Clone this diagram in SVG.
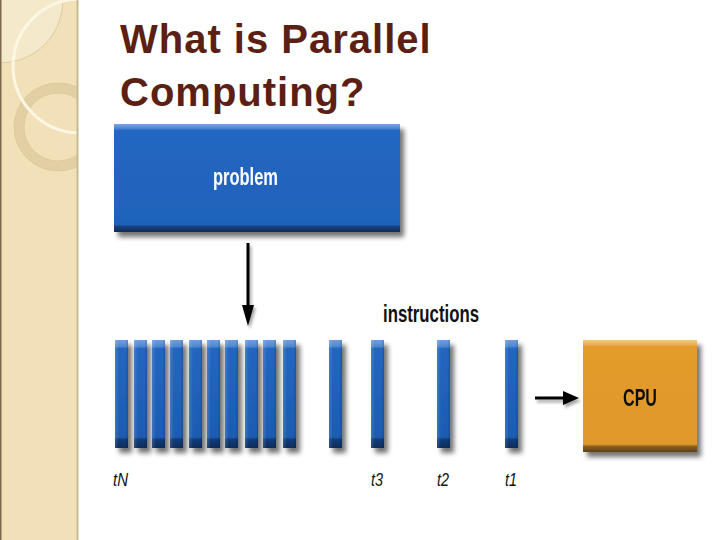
<svg xmlns="http://www.w3.org/2000/svg" width="720" height="540" viewBox="0 0 720 540">
<style>
.title{font-family:"Liberation Sans",Arial,sans-serif;font-weight:bold;font-size:40px;fill:#5b1f14;letter-spacing:1px}
.lbl{font-family:"Liberation Sans",Arial,sans-serif;font-weight:bold}
.t{font-family:"Liberation Sans",Arial,sans-serif;font-style:italic;font-size:19px;fill:#111}
</style>
<defs>
<linearGradient id="blueBar" x1="0" y1="0" x2="0" y2="1">
<stop offset="0" stop-color="#6f9fdc"/>
<stop offset="0.06" stop-color="#4f86d0"/>
<stop offset="0.08" stop-color="#2366c0"/>
<stop offset="0.9" stop-color="#1d5cb2"/>
<stop offset="0.92" stop-color="#123c78"/>
<stop offset="1" stop-color="#0d2d5c"/>
</linearGradient>
<linearGradient id="barSide" x1="0" y1="0" x2="1" y2="0">
<stop offset="0" stop-color="#fff" stop-opacity="0.15"/>
<stop offset="0.3" stop-color="#fff" stop-opacity="0"/>
<stop offset="0.8" stop-color="#000" stop-opacity="0"/>
<stop offset="1" stop-color="#000" stop-opacity="0.15"/>
</linearGradient>
<linearGradient id="blueBox" x1="0" y1="0" x2="0" y2="1">
<stop offset="0" stop-color="#7aa6e0"/>
<stop offset="0.04" stop-color="#4f86d0"/>
<stop offset="0.06" stop-color="#2367c2"/>
<stop offset="0.93" stop-color="#1f62bb"/>
<stop offset="0.95" stop-color="#163f7a"/>
<stop offset="1" stop-color="#0f2c58"/>
</linearGradient>
<linearGradient id="orangeBox" x1="0" y1="0" x2="0" y2="1">
<stop offset="0" stop-color="#f4c88a"/>
<stop offset="0.04" stop-color="#e9ae55"/>
<stop offset="0.06" stop-color="#e39c2b"/>
<stop offset="0.93" stop-color="#e0992a"/>
<stop offset="0.95" stop-color="#8d6120"/>
<stop offset="1" stop-color="#5c3f14"/>
</linearGradient>
<filter id="sh" x="-20%" y="-20%" width="150%" height="150%">
<feGaussianBlur in="SourceAlpha" stdDeviation="2.5"/>
<feOffset dx="4" dy="5" result="b"/>
<feComponentTransfer><feFuncA type="linear" slope="0.55"/></feComponentTransfer>
<feMerge><feMergeNode/><feMergeNode in="SourceGraphic"/></feMerge>
</filter>
<filter id="ash" x="-50%" y="-50%" width="200%" height="200%">
<feGaussianBlur in="SourceAlpha" stdDeviation="1.5"/>
<feOffset dx="2" dy="3"/>
<feComponentTransfer><feFuncA type="linear" slope="0.35"/></feComponentTransfer>
<feMerge><feMergeNode/><feMergeNode in="SourceGraphic"/></feMerge>
</filter>
<clipPath id="side"><rect x="0" y="0" width="78" height="540"/></clipPath>
<symbol id="bar" overflow="visible"><rect x="0" y="0" width="13" height="108" fill="url(#blueBar)"/><rect x="0" y="0" width="13" height="108" fill="url(#barSide)"/></symbol>
</defs>
<rect width="720" height="540" fill="#fff"/>
<g id="sidebar">
<rect x="0" y="0" width="78" height="540" fill="#f1e0b8"/>
<g clip-path="url(#side)">
<circle cx="0" cy="0" r="63" fill="#f5e9cc" stroke="#d6c49a" stroke-width="0.8"/>
<circle cx="58" cy="127" r="39" fill="none" stroke="#e2cfa3" stroke-width="10"/>
<circle cx="58" cy="127" r="44" fill="none" stroke="#d8c496" stroke-width="0.7"/>
<circle cx="58" cy="127" r="34" fill="none" stroke="#d8c496" stroke-width="0.7"/>
<circle cx="80" cy="66" r="67" fill="none" stroke="#fdf6e2" stroke-width="3"/>
</g>
<rect x="0" y="0" width="1.5" height="540" fill="#7d6a4a"/>
<rect x="76.5" y="0" width="2" height="540" fill="#c9b991"/>
</g>
<g id="title">
<text class="title" x="120" y="53">What is Parallel</text>
<text class="title" x="120" y="106">Computing?</text>
</g>
<g id="problem" filter="url(#sh)">
<rect x="114" y="124" width="286" height="108" fill="url(#blueBox)"/>
<text class="lbl" x="245.5" y="185" font-size="23" fill="#fff" text-anchor="middle" textLength="65" lengthAdjust="spacingAndGlyphs">problem</text>
</g>
<g id="connectors" fill="#000" stroke="#000">
<g filter="url(#ash)">
<line x1="248" y1="243" x2="248" y2="308" stroke-width="3"/>
<polygon points="242,305 254,305 248,326" stroke="none"/>
</g>
<g filter="url(#ash)">
<line x1="535" y1="398" x2="566" y2="398" stroke-width="3"/>
<polygon points="563,391 563,405 579,398" stroke="none"/>
</g>
</g>
<g id="instructions-label">
<text class="lbl" x="431" y="322" font-size="23" fill="#111" text-anchor="middle" textLength="96" lengthAdjust="spacingAndGlyphs">instructions</text>
</g>
<g id="instructions" filter="url(#sh)">
<use href="#bar" x="115" y="340"/>
<use href="#bar" x="134" y="340"/>
<use href="#bar" x="152" y="340"/>
<use href="#bar" x="170" y="340"/>
<use href="#bar" x="189" y="340"/>
<use href="#bar" x="207" y="340"/>
<use href="#bar" x="225" y="340"/>
<use href="#bar" x="245" y="340"/>
<use href="#bar" x="263" y="340"/>
<use href="#bar" x="283" y="340"/>
<use href="#bar" x="329" y="340"/>
<use href="#bar" x="371" y="340"/>
<use href="#bar" x="437" y="340"/>
<use href="#bar" x="505" y="340"/>
</g>
<g id="labels">
<text class="t" x="113" y="486" textLength="15" lengthAdjust="spacingAndGlyphs">tN</text>
<text class="t" x="371" y="486" textLength="12" lengthAdjust="spacingAndGlyphs">t3</text>
<text class="t" x="437" y="486" textLength="12" lengthAdjust="spacingAndGlyphs">t2</text>
<text class="t" x="505" y="486" textLength="12" lengthAdjust="spacingAndGlyphs">t1</text>
</g>
<g id="cpu" filter="url(#sh)">
<rect x="583" y="340" width="114" height="112" fill="url(#orangeBox)"/>
<text class="lbl" x="640" y="406" font-size="23" fill="#111" text-anchor="middle" textLength="34" lengthAdjust="spacingAndGlyphs">CPU</text>
</g>
</svg>
